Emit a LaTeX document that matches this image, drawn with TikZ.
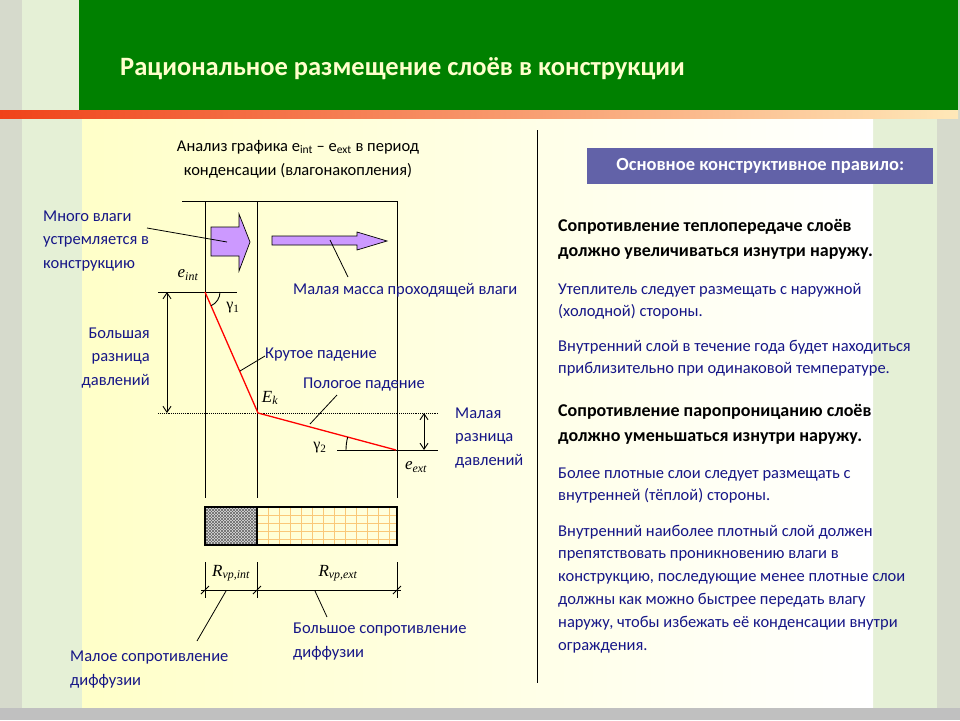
\documentclass[tikz,border=0pt]{standalone}
\usepackage{fontspec}
\setmainfont{Carlito}
\newfontfamily\tms{Liberation Serif}
\usetikzlibrary{arrows.meta,patterns,positioning}

\definecolor{hdrgreen}{RGB}{0,128,0}
\definecolor{titlecream}{RGB}{255,255,204}
\definecolor{navytxt}{RGB}{22,22,135}
\definecolor{rulebox}{RGB}{98,98,168}
\definecolor{arrowlilac}{RGB}{204,153,255}
\definecolor{sidegreen}{RGB}{229,240,214}
\definecolor{sidegray}{RGB}{214,218,204}
\definecolor{bottomgray}{RGB}{192,192,192}
\definecolor{paleyellow}{RGB}{255,255,200}
\definecolor{barred}{RGB}{240,66,26}
\definecolor{barpeach}{RGB}{255,232,184}
\definecolor{gridorange}{RGB}{250,200,120}

\begin{document}
\begin{tikzpicture}[x=1pt,y=-1pt,>={Straight Barb[length=6pt,width=8pt]},
  lbl/.style={text=navytxt,font=\fontsize{16.5}{23.5}\selectfont,inner sep=0pt,align=left,anchor=base west},
  para/.style={text=navytxt,font=\fontsize{16.5}{22}\selectfont,inner sep=0pt,align=left,anchor=base west},
  rulebold/.style={text=black,font=\fontsize{18}{25}\selectfont\bfseries,inner sep=0pt,align=left,anchor=base west},
  sym/.style={font=\fontsize{17}{17}\selectfont\tms\itshape,inner sep=0pt},
  greek/.style={font=\fontsize{16}{16}\selectfont\tms,inner sep=0pt},
  lead/.style={line width=0.8pt},
  frame/.style={line width=0.9pt},
  blockarrow/.style={fill=arrowlilac,draw=black,line width=0.7pt,line join=miter}]
  \useasboundingbox (0,0) rectangle (960,720);
  % background bands
  \fill[sidegray] (0,0) rectangle (960,720);
  \fill[sidegreen] (22,0) rectangle (937,708);
  \shade[left color=paleyellow,right color=white] (82,118) rectangle (873,708);
  \fill[hdrgreen] (79,0) rectangle (958,110);
  \shade[left color=barred,right color=barpeach] (0,110) rectangle (958,118);
  \fill[bottomgray] (0,708) rectangle (960,720);
  \node[anchor=base west,inner sep=0pt,text=titlecream,font=\fontsize{26.5}{30}\selectfont\bfseries]
    (title) at (120,75) {Рациональное размещение слоёв в конструкции};
  \draw[frame] (537,130) -- (537,683);

  % diagram caption (base = last line)
  \node[align=center,inner sep=0pt,anchor=base,font=\fontsize{16.5}{24}\selectfont]
    (caption) at (298,175) {Анализ графика e\textsubscript{int} – e\textsubscript{ext} в период\\конденсации (влагонакопления)};

  % wall layers
  \draw[frame] (182,201) -- (397,201);
  \foreach \x in {205,257,397} \draw[frame] (\x,201) -- (\x,498);

  % moisture arrows
  \draw[blockarrow] (211,227) -- (239,227) -- (239,214) -- (250,242) -- (239,271) -- (239,256) -- (211,256) -- cycle;
  \draw[blockarrow] (272,236) -- (357,236) -- (357,232) -- (387,241) -- (357,250) -- (357,245) -- (272,245) -- cycle;
  \node[lbl] (muchmoist) at (43,268) {Много влаги\\устремляется в\\конструкцию};
  \coordinate (muchfrom) at (147,228);
  \coordinate (muchto) at (227,242);
  \draw[lead] (muchfrom) -- (muchto);
  \node[lbl] (lowmass) at (293,294) {Малая масса проходящей влаги};
  \coordinate (massfrom) at (330,240);
  \coordinate (massto) at (348,277);
  \draw[lead] (massfrom) -- (massto);

  % pressure curve
  \coordinate (eint) at (205,292);
  \coordinate (ek) at (258,413);
  \coordinate (eext) at (396,450);
  \draw[frame] (158,292) -- (237,292);
  \draw[densely dotted,frame] (158,413) -- (438,413);
  \draw[frame] (337,450) -- (438,450);
  \draw[red,line width=1.3pt] (eint) -- (ek) -- (eext);
  \draw[frame,<->] (167,292) -- (167,413);
  \draw[frame,<->] (424,413) -- (424,450);
  \draw[frame] ([shift={(0:15)}]eint) arc[start angle=0,end angle=66,radius=15];
  \draw[frame] ([shift={(180:50)}]eext) arc[start angle=180,end angle=195,radius=50];
  \node[sym] (eintlbl) at (188,275) {e\textsubscript{int}};
  \node[sym] (eklbl) at (270,398) {E\textsubscript{k}};
  \node[sym] (eextlbl) at (416,467) {e\textsubscript{ext}};
  \node[greek] (g1) at (233,308) {γ\textsubscript{1}};
  \node[greek] (g2) at (320,448) {γ\textsubscript{2}};

  \node[lbl,align=right,anchor=base east] (bigdiff) at (150,385) {Большая\\разница\\давлений};
  \node[lbl] (smalldiff) at (455,465) {Малая\\разница\\давлений};
  \node[lbl] (steep) at (265,358) {Крутое падение};
  \coordinate (steepfrom) at (240,371);
  \coordinate (steepto) at (265,356);
  \draw[lead] (steepfrom) -- (steepto);
  \node[lbl] (gentle) at (303,388) {Пологое падение};
  \coordinate (gentlefrom) at (310,424);
  \coordinate (gentleto) at (337,395);
  \draw[lead] (gentlefrom) -- (gentleto);

  % layer bar
  \fill[gray!25] (205,507) rectangle (257,545);
  \fill[pattern=north east lines,pattern color=gray!80!black] (205,507) rectangle (257,545);
  \fill[pattern=north west lines,pattern color=gray!80!black] (205,507) rectangle (257,545);
  \foreach \x in {268,279,...,397} \draw[gridorange,line width=0.5pt] (\x,507) -- (\x,545);
  \foreach \y in {515,523,...,545} \draw[gridorange,line width=0.5pt] (257,\y) -- (397,\y);
  \draw[frame,line width=1.1pt] (205,507) rectangle (397,545);
  \draw[frame,line width=1.1pt] (257,507) -- (257,545);

  % resistances
  \draw[frame] (201,590) -- (401,590);
  \foreach \x in {205,257,397} {
    \draw[frame] (\x,562) -- (\x,598);
    \draw[frame] (\x-4,594) -- (\x+4,586);
  }
  \node[sym] (rint) at (231,573) {R\textsubscript{vp,int}};
  \node[sym] (rext) at (338,573) {R\textsubscript{vp,ext}};
  \node[lbl] (lowres) at (70,685) {Малое сопротивление\\диффузии};
  \coordinate (lowfrom) at (226,591);
  \coordinate (lowto) at (197,641);
  \draw[lead] (lowfrom) -- (lowto);
  \node[lbl] (highres) at (293,657) {Большое сопротивление\\диффузии};
  \coordinate (highfrom) at (315,591);
  \coordinate (highto) at (327,617);
  \draw[lead] (highfrom) -- (highto);

  % design rule panel (base = last line)
  \node[fill=rulebox,text=white,font=\fontsize{18.5}{20}\selectfont\bfseries,
    minimum width=346pt,minimum height=36pt,anchor=north west] (rulehead) at (587,148) {Основное конструктивное правило:};
  \node[rulebold] (heatrule) at (558,256) {Сопротивление теплопередаче слоёв\\должно увеличиваться изнутри наружу.};
  \node[para] (insul) at (558,316) {Утеплитель следует размещать с наружной\\(холодной) стороны.};
  \node[para] (inner) at (558,373) {Внутренний слой в течение года будет находиться\\приблизительно при одинаковой температуре.};
  \node[rulebold] (vaprule) at (558,441) {Сопротивление паропроницанию слоёв\\должно уменьшаться изнутри наружу.};
  \node[para] (dense) at (558,500) {Более плотные слои следует размещать с\\внутренней (тёплой) стороны.};
  \node[para,font=\fontsize{16.5}{22.8}\selectfont] (innerdense) at (558,650) {Внутренний наиболее плотный слой должен\\препятствовать проникновению влаги в\\конструкцию, последующие менее плотные слои\\должны как можно быстрее передать влагу\\наружу, чтобы избежать её конденсации внутри\\ограждения.};
\end{tikzpicture}
\end{document}
